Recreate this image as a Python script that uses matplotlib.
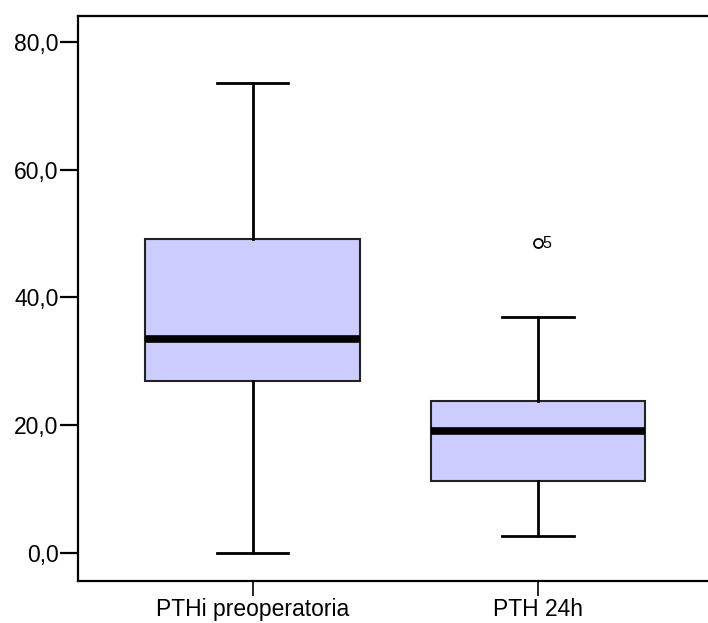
import matplotlib
matplotlib.use("Agg")
import matplotlib.pyplot as plt

plt.rcParams['font.family'] = ['Liberation Sans', 'DejaVu Sans']

# box summaries
labels = ["PTHi preoperatoria", "PTH 24h"]
whislo = [0.0, 2.7]
q1 = [26.9, 11.3]
med = [33.5, 19.1]
q3 = [49.2, 23.8]
whishi = [73.6, 36.9]
fliers = [[], [48.5]]
flier_ids = [[], ["5"]]

stats = []
for i in range(len(labels)):
    stats.append(dict(label=labels[i], whislo=whislo[i], q1=q1[i], med=med[i],
                      q3=q3[i], whishi=whishi[i], fliers=fliers[i]))

fig = plt.figure(figsize=(7.08, 6.23), dpi=100)
ax = fig.add_axes([0.110, 0.0674, 0.90, 0.9074])

ax.bxp(stats, positions=[1, 2], widths=0.752, patch_artist=True,
       boxprops=dict(facecolor="#ccccff", edgecolor="#222222", linewidth=1.5),
       medianprops=dict(color="black", linewidth=5.5, solid_capstyle="butt"),
       whiskerprops=dict(color="black", linewidth=2),
       capprops=dict(color="black", linewidth=2),
       capwidths=0.25,
       flierprops=dict(marker="o", markersize=6.5, markerfacecolor="none",
                       markeredgecolor="black", markeredgewidth=1.3))

for i in range(len(labels)):
    for v, name in zip(fliers[i], flier_ids[i]):
        ax.annotate(name, (i + 1, v), xytext=(3, 0), textcoords="offset points",
                    va="center", ha="left", fontsize=11.5)

ax.set_xlim(0.388, 2.62)
ax.set_ylim(-4.4, 84.1)
ax.set_yticks([0, 20, 40, 60, 80])
ax.set_yticklabels(["0,0", "20,0", "40,0", "60,0", "80,0"])

ax.spines["right"].set_visible(False)
for s in ["left", "bottom", "top"]:
    ax.spines[s].set_linewidth(1.6)
ax.tick_params(axis="y", length=13, width=1.6, labelsize=16.5, pad=1)
ax.tick_params(axis="x", length=11, width=1.2, labelsize=16.5, pad=1)

fig.savefig("out.png", dpi=100)
